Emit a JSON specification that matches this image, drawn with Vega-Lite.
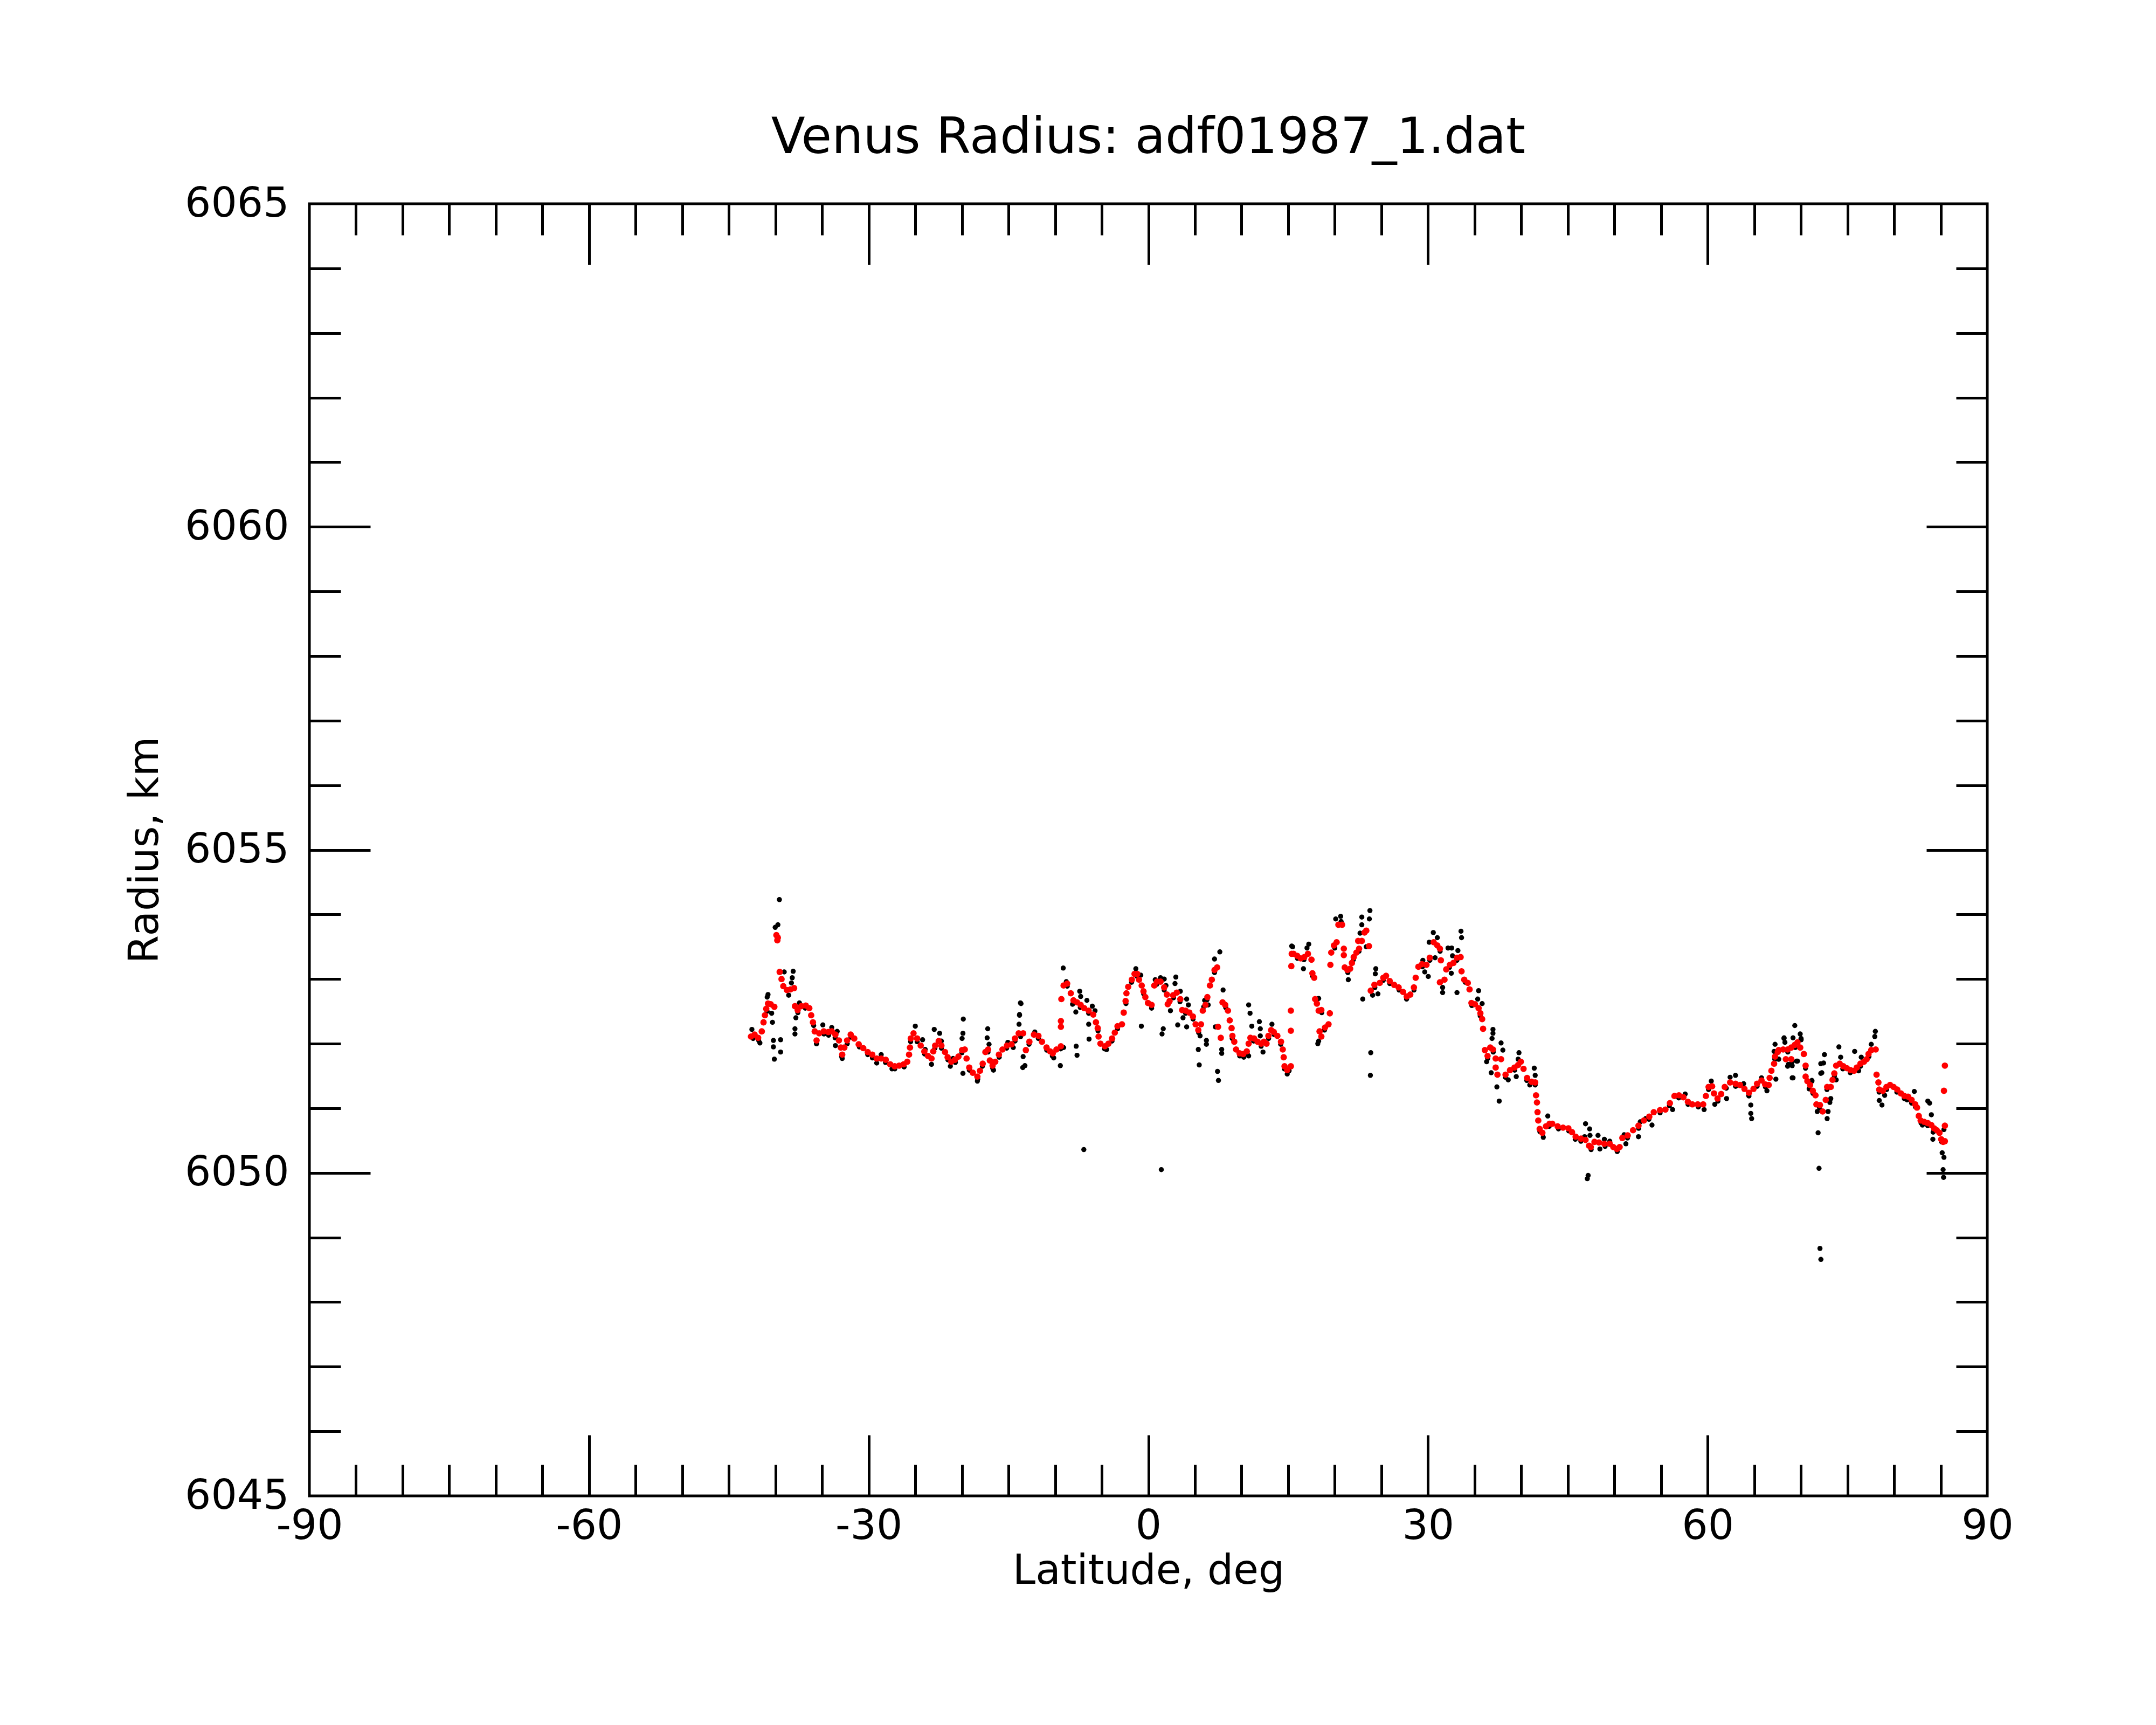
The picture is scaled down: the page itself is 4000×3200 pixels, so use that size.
{
  "$schema": "https://vega.github.io/schema/vega-lite/v6.json",
  "width": 3113,
  "height": 2397,
  "autosize": {"type": "none"},
  "padding": {"left": 574, "top": 378, "right": 313, "bottom": 425},
  "background": "white",
  "title": {
    "text": "Venus Radius: adf01987_1.dat",
    "font": "DejaVu Sans",
    "fontSize": 92,
    "fontWeight": "normal",
    "color": "black",
    "anchor": "middle",
    "frame": "group",
    "baseline": "alphabetic",
    "offset": -36
  },
  "config": {
    "view": {"stroke": "black", "strokeWidth": 5},
    "axis": {
      "domain": false,
      "grid": false,
      "labelFont": "DejaVu Sans",
      "titleFont": "DejaVu Sans",
      "labelColor": "black",
      "titleColor": "black",
      "tickColor": "black",
      "tickWidth": 5,
      "labelFontSize": 76,
      "titleFontSize": 76,
      "titleFontWeight": "normal",
      "labelFlush": false,
      "labelOverlap": false,
      "labelBound": false,
      "labelLimit": 0
    }
  },
  "datasets": {
    "raw": [
      {"lat": -39.58, "r": 6054.23}, {"lat": -39.74, "r": 6053.84}, {"lat": -40.03, "r": 6053.80}, {"lat": -39.06, "r": 6053.11},
      {"lat": -38.10, "r": 6053.12}, {"lat": -38.20, "r": 6053.02}, {"lat": -38.29, "r": 6052.94}, {"lat": -38.58, "r": 6052.75},
      {"lat": -40.80, "r": 6052.76}, {"lat": -40.89, "r": 6052.72}, {"lat": -40.41, "r": 6052.47}, {"lat": -40.32, "r": 6052.33},
      {"lat": -40.22, "r": 6052.05}, {"lat": -40.22, "r": 6051.95}, {"lat": -39.45, "r": 6052.06}, {"lat": -39.45, "r": 6051.87},
      {"lat": -40.12, "r": 6051.76}, {"lat": -37.81, "r": 6052.40}, {"lat": -37.91, "r": 6052.23}, {"lat": -37.91, "r": 6052.15},
      {"lat": -42.53, "r": 6052.22}, {"lat": -41.67, "r": 6052.01}, {"lat": -37.43, "r": 6052.63}, {"lat": -34.92, "r": 6052.29},
      {"lat": -33.96, "r": 6052.25}, {"lat": -33.38, "r": 6052.19}, {"lat": -33.57, "r": 6051.97}, {"lat": -35.59, "r": 6052.00},
      {"lat": -32.84, "r": 6051.77}, {"lat": -29.14, "r": 6051.70}, {"lat": -28.66, "r": 6051.83}, {"lat": -27.50, "r": 6051.61},
      {"lat": -25.00, "r": 6052.27}, {"lat": -24.22, "r": 6052.06}, {"lat": -23.94, "r": 6051.91}, {"lat": -23.26, "r": 6051.68},
      {"lat": -22.97, "r": 6052.22}, {"lat": -22.39, "r": 6052.16}, {"lat": -22.20, "r": 6052.04}, {"lat": -21.24, "r": 6051.65},
      {"lat": -20.95, "r": 6051.77}, {"lat": -19.85, "r": 6052.38}, {"lat": -19.89, "r": 6052.16}, {"lat": -19.98, "r": 6052.08},
      {"lat": -19.89, "r": 6051.54}, {"lat": -18.34, "r": 6051.42}, {"lat": -17.23, "r": 6052.23}, {"lat": -17.29, "r": 6052.09},
      {"lat": -17.09, "r": 6051.99}, {"lat": -16.61, "r": 6051.59}, {"lat": -15.07, "r": 6052.02}, {"lat": -14.49, "r": 6051.94},
      {"lat": -13.66, "r": 6052.62}, {"lat": -13.82, "r": 6052.44}, {"lat": -13.87, "r": 6052.30}, {"lat": -13.47, "r": 6051.63},
      {"lat": -13.43, "r": 6051.80},
      {"lat": -42.4, "r": 6052.08}, {"lat": -41.8, "r": 6052.05}, {"lat": -40.9, "r": 6052.50}, {"lat": -37.6, "r": 6052.48},
      {"lat": -36.8, "r": 6052.55}, {"lat": -35.9, "r": 6052.28}, {"lat": -35.6, "r": 6052.00}, {"lat": -34.8, "r": 6052.15},
      {"lat": -34.3, "r": 6052.13}, {"lat": -33.6, "r": 6052.09}, {"lat": -32.9, "r": 6051.80}, {"lat": -32.3, "r": 6052.00},
      {"lat": -31.9, "r": 6052.10}, {"lat": -31.0, "r": 6051.95}, {"lat": -30.1, "r": 6051.83}, {"lat": -29.6, "r": 6051.78},
      {"lat": -28.2, "r": 6051.71}, {"lat": -27.2, "r": 6051.61}, {"lat": -26.2, "r": 6051.64}, {"lat": -25.5, "r": 6052.03},
      {"lat": -24.8, "r": 6052.03}, {"lat": -24.0, "r": 6051.84}, {"lat": -22.9, "r": 6051.93}, {"lat": -22.2, "r": 6051.93},
      {"lat": -21.5, "r": 6051.75}, {"lat": -20.7, "r": 6051.71}, {"lat": -20.0, "r": 6051.86}, {"lat": -19.2, "r": 6051.59},
      {"lat": -18.3, "r": 6051.45}, {"lat": -17.8, "r": 6051.65}, {"lat": -17.2, "r": 6051.87}, {"lat": -16.7, "r": 6051.62},
      {"lat": -16.0, "r": 6051.79}, {"lat": -15.2, "r": 6051.93}, {"lat": -14.3, "r": 6052.04},
      {"lat": -13.72, "r": 6052.63}, {"lat": -13.82, "r": 6052.45}, {"lat": -13.24, "r": 6051.66}, {"lat": -12.18, "r": 6052.18},
      {"lat": -10.15, "r": 6051.78}, {"lat": -9.44, "r": 6051.66}, {"lat": -9.13, "r": 6053.17}, {"lat": -9.09, "r": 6051.94},
      {"lat": -8.80, "r": 6052.96}, {"lat": -8.13, "r": 6052.61}, {"lat": -7.78, "r": 6052.49}, {"lat": -7.36, "r": 6052.81},
      {"lat": -7.26, "r": 6052.73}, {"lat": -6.59, "r": 6052.67}, {"lat": -6.01, "r": 6052.58}, {"lat": -5.72, "r": 6052.51},
      {"lat": -6.40, "r": 6052.30}, {"lat": -6.36, "r": 6052.07}, {"lat": -7.74, "r": 6051.96}, {"lat": -7.65, "r": 6051.82},
      {"lat": -6.92, "r": 6050.36}, {"lat": -4.47, "r": 6051.91}, {"lat": -1.34, "r": 6053.16}, {"lat": -0.81, "r": 6053.06},
      {"lat": -0.75, "r": 6052.27}, {"lat": 0.35, "r": 6052.55}, {"lat": 0.74, "r": 6052.99}, {"lat": 1.31, "r": 6053.02},
      {"lat": 1.70, "r": 6053.00}, {"lat": 1.89, "r": 6052.90}, {"lat": 1.60, "r": 6052.23}, {"lat": 1.47, "r": 6052.15},
      {"lat": 1.39, "r": 6050.05}, {"lat": 2.37, "r": 6052.51}, {"lat": 2.95, "r": 6053.03}, {"lat": 2.86, "r": 6052.93},
      {"lat": 3.43, "r": 6052.81}, {"lat": 4.11, "r": 6052.69}, {"lat": 4.30, "r": 6052.60}, {"lat": 3.15, "r": 6052.29},
      {"lat": 3.72, "r": 6052.40}, {"lat": 4.11, "r": 6052.26}, {"lat": 5.55, "r": 6052.12}, {"lat": 6.23, "r": 6052.05},
      {"lat": 6.23, "r": 6051.99}, {"lat": 5.36, "r": 6051.91}, {"lat": 5.46, "r": 6051.67}, {"lat": 6.04, "r": 6052.67},
      {"lat": 5.94, "r": 6052.57}, {"lat": 6.42, "r": 6052.60}, {"lat": 7.10, "r": 6053.31}, {"lat": 7.67, "r": 6053.42},
      {"lat": 8.02, "r": 6052.83}, {"lat": 7.19, "r": 6052.26}, {"lat": 7.87, "r": 6051.91}, {"lat": 7.87, "r": 6051.85},
      {"lat": 7.42, "r": 6051.57}, {"lat": 7.52, "r": 6051.43}, {"lat": 10.76, "r": 6052.60}, {"lat": 10.91, "r": 6052.47},
      {"lat": 11.10, "r": 6052.27}, {"lat": 11.91, "r": 6052.34}, {"lat": 12.01, "r": 6052.23}, {"lat": 12.01, "r": 6052.12},
      {"lat": 13.26, "r": 6052.30}, {"lat": 12.30, "r": 6051.87}, {"lat": 10.24, "r": 6051.79}, {"lat": 10.76, "r": 6051.81},
      {"lat": 14.90, "r": 6051.53}, {"lat": 15.38, "r": 6053.51},
      {"lat": -13.7, "r": 6052.11}, {"lat": -12.8, "r": 6051.99}, {"lat": -11.8, "r": 6052.08}, {"lat": -10.9, "r": 6051.90},
      {"lat": -10.3, "r": 6051.81}, {"lat": -9.4, "r": 6051.92}, {"lat": -8.7, "r": 6052.89}, {"lat": -8.0, "r": 6052.63},
      {"lat": -7.3, "r": 6052.56}, {"lat": -6.4, "r": 6052.47}, {"lat": -5.4, "r": 6052.20}, {"lat": -4.7, "r": 6051.92},
      {"lat": -3.9, "r": 6052.04}, {"lat": -3.3, "r": 6052.23}, {"lat": -2.4, "r": 6052.62}, {"lat": -1.8, "r": 6052.95},
      {"lat": -1.2, "r": 6053.04}, {"lat": -0.5, "r": 6052.77}, {"lat": 0.9, "r": 6052.92}, {"lat": 1.7, "r": 6052.83},
      {"lat": 2.7, "r": 6052.71}, {"lat": 3.4, "r": 6052.65}, {"lat": 4.0, "r": 6052.47}, {"lat": 4.8, "r": 6052.38},
      {"lat": 5.4, "r": 6052.17}, {"lat": 6.3, "r": 6052.68}, {"lat": 7.1, "r": 6053.10}, {"lat": 8.3, "r": 6052.56},
      {"lat": 9.0, "r": 6052.08}, {"lat": 9.8, "r": 6051.81}, {"lat": 10.6, "r": 6051.84}, {"lat": 11.3, "r": 6052.04},
      {"lat": 12.1, "r": 6051.96}, {"lat": 12.9, "r": 6052.08}, {"lat": 13.5, "r": 6052.14}, {"lat": 14.2, "r": 6051.99},
      {"lat": 14.6, "r": 6051.61},
      {"lat": 15.48, "r": 6053.50}, {"lat": 17.21, "r": 6053.54}, {"lat": 17.02, "r": 6053.48}, {"lat": 16.64, "r": 6053.16},
      {"lat": 18.27, "r": 6052.70}, {"lat": 18.18, "r": 6052.00}, {"lat": 18.27, "r": 6052.04}, {"lat": 20.10, "r": 6053.93},
      {"lat": 20.63, "r": 6053.97}, {"lat": 20.68, "r": 6053.89}, {"lat": 22.90, "r": 6053.96}, {"lat": 23.77, "r": 6054.06},
      {"lat": 23.71, "r": 6053.93}, {"lat": 22.90, "r": 6053.84}, {"lat": 22.71, "r": 6053.71}, {"lat": 23.38, "r": 6053.50},
      {"lat": 21.45, "r": 6052.99}, {"lat": 23.86, "r": 6051.86}, {"lat": 23.82, "r": 6051.51}, {"lat": 23.00, "r": 6052.69},
      {"lat": 24.40, "r": 6053.16}, {"lat": 24.35, "r": 6053.08}, {"lat": 24.06, "r": 6052.75}, {"lat": 24.63, "r": 6052.77},
      {"lat": 27.72, "r": 6052.70}, {"lat": 29.45, "r": 6053.29}, {"lat": 29.65, "r": 6053.11}, {"lat": 30.03, "r": 6053.04},
      {"lat": 30.57, "r": 6053.72}, {"lat": 31.00, "r": 6053.64}, {"lat": 30.13, "r": 6053.57}, {"lat": 30.76, "r": 6053.33},
      {"lat": 32.15, "r": 6053.48}, {"lat": 32.54, "r": 6053.48}, {"lat": 33.21, "r": 6053.44}, {"lat": 32.63, "r": 6053.36},
      {"lat": 33.54, "r": 6053.74}, {"lat": 33.60, "r": 6053.64}, {"lat": 31.57, "r": 6052.87}, {"lat": 31.57, "r": 6052.79},
      {"lat": 32.50, "r": 6053.09}, {"lat": 33.11, "r": 6052.79}, {"lat": 35.43, "r": 6052.82}, {"lat": 35.33, "r": 6052.69},
      {"lat": 35.81, "r": 6052.62}, {"lat": 36.97, "r": 6052.22}, {"lat": 36.97, "r": 6052.16}, {"lat": 36.87, "r": 6052.08},
      {"lat": 37.84, "r": 6052.01}, {"lat": 38.03, "r": 6051.90}, {"lat": 36.29, "r": 6051.72}, {"lat": 36.78, "r": 6051.55},
      {"lat": 37.39, "r": 6051.33}, {"lat": 37.64, "r": 6051.11}, {"lat": 39.76, "r": 6051.86}, {"lat": 39.67, "r": 6051.76},
      {"lat": 41.40, "r": 6051.62}, {"lat": 41.50, "r": 6051.51}, {"lat": 39.47, "r": 6051.49}, {"lat": 38.61, "r": 6051.44},
      {"lat": 40.92, "r": 6051.36}, {"lat": 42.85, "r": 6050.88}, {"lat": 42.37, "r": 6050.55},
      {"lat": 15.1, "r": 6051.58}, {"lat": 16.0, "r": 6053.32}, {"lat": 16.7, "r": 6053.30}, {"lat": 17.6, "r": 6053.05},
      {"lat": 18.6, "r": 6052.48}, {"lat": 18.9, "r": 6052.21}, {"lat": 20.0, "r": 6053.48}, {"lat": 21.4, "r": 6053.10},
      {"lat": 22.0, "r": 6053.30}, {"lat": 22.6, "r": 6053.43}, {"lat": 24.3, "r": 6052.87}, {"lat": 25.2, "r": 6052.98},
      {"lat": 25.9, "r": 6052.93}, {"lat": 26.9, "r": 6052.83}, {"lat": 27.7, "r": 6052.69}, {"lat": 28.5, "r": 6052.83},
      {"lat": 29.4, "r": 6053.19}, {"lat": 30.2, "r": 6053.29}, {"lat": 31.3, "r": 6053.43}, {"lat": 32.3, "r": 6053.18},
      {"lat": 33.1, "r": 6053.29}, {"lat": 34.0, "r": 6052.95}, {"lat": 34.7, "r": 6052.59}, {"lat": 35.6, "r": 6052.43},
      {"lat": 36.4, "r": 6051.77}, {"lat": 37.0, "r": 6051.87}, {"lat": 38.3, "r": 6051.48}, {"lat": 39.3, "r": 6051.59},
      {"lat": 40.6, "r": 6051.43}, {"lat": 41.5, "r": 6051.36}, {"lat": 42.0, "r": 6050.64}, {"lat": 43.0, "r": 6050.72},
      {"lat": 46.90, "r": 6050.76}, {"lat": 47.34, "r": 6050.68}, {"lat": 47.38, "r": 6050.58}, {"lat": 48.24, "r": 6050.58},
      {"lat": 48.92, "r": 6050.52}, {"lat": 49.50, "r": 6050.49}, {"lat": 46.80, "r": 6050.56}, {"lat": 48.44, "r": 6050.37},
      {"lat": 47.18, "r": 6049.96}, {"lat": 47.09, "r": 6049.91}, {"lat": 51.04, "r": 6050.59}, {"lat": 51.23, "r": 6050.45},
      {"lat": 52.58, "r": 6050.56}, {"lat": 52.77, "r": 6050.79}, {"lat": 53.35, "r": 6050.84}, {"lat": 54.03, "r": 6050.74},
      {"lat": 56.24, "r": 6050.98}, {"lat": 57.59, "r": 6051.22}, {"lat": 60.39, "r": 6051.42}, {"lat": 59.62, "r": 6050.98},
      {"lat": 60.77, "r": 6051.06}, {"lat": 62.03, "r": 6051.15}, {"lat": 62.41, "r": 6051.48}, {"lat": 62.99, "r": 6051.51},
      {"lat": 63.86, "r": 6051.38}, {"lat": 64.43, "r": 6051.19}, {"lat": 64.63, "r": 6051.05}, {"lat": 64.63, "r": 6050.92},
      {"lat": 64.72, "r": 6050.84}, {"lat": 65.78, "r": 6051.47}, {"lat": 66.36, "r": 6051.27}, {"lat": 67.23, "r": 6051.99},
      {"lat": 67.13, "r": 6051.88}, {"lat": 67.32, "r": 6051.45}, {"lat": 68.19, "r": 6052.08}, {"lat": 67.61, "r": 6051.76},
      {"lat": 69.35, "r": 6052.28}, {"lat": 69.93, "r": 6052.15}, {"lat": 70.02, "r": 6052.08}, {"lat": 69.16, "r": 6052.09},
      {"lat": 68.67, "r": 6051.68}, {"lat": 69.06, "r": 6051.72}, {"lat": 69.16, "r": 6051.47}, {"lat": 69.54, "r": 6051.73},
      {"lat": 71.18, "r": 6051.43}, {"lat": 70.89, "r": 6051.30}, {"lat": 71.76, "r": 6050.95}, {"lat": 71.85, "r": 6050.62},
      {"lat": 71.95, "r": 6050.07}, {"lat": 72.14, "r": 6051.69}, {"lat": 72.14, "r": 6051.54},
      {"lat": 44.0, "r": 6050.68}, {"lat": 45.1, "r": 6050.65}, {"lat": 45.8, "r": 6050.52}, {"lat": 46.4, "r": 6050.49},
      {"lat": 47.5, "r": 6050.36}, {"lat": 49.0, "r": 6050.41}, {"lat": 50.3, "r": 6050.33}, {"lat": 51.4, "r": 6050.54},
      {"lat": 52.6, "r": 6050.69}, {"lat": 53.7, "r": 6050.83}, {"lat": 54.9, "r": 6050.93}, {"lat": 55.9, "r": 6051.04},
      {"lat": 56.9, "r": 6051.16}, {"lat": 57.9, "r": 6051.06}, {"lat": 59.0, "r": 6051.02}, {"lat": 60.1, "r": 6051.29},
      {"lat": 61.1, "r": 6051.11}, {"lat": 62.0, "r": 6051.31}, {"lat": 63.0, "r": 6051.34}, {"lat": 64.4, "r": 6051.20},
      {"lat": 65.3, "r": 6051.34}, {"lat": 66.2, "r": 6051.33}, {"lat": 67.2, "r": 6051.76},
      {"lat": 70.03, "r": 6052.06}, {"lat": 68.20, "r": 6052.09}, {"lat": 68.29, "r": 6052.02}, {"lat": 67.62, "r": 6051.76},
      {"lat": 68.58, "r": 6051.65}, {"lat": 69.07, "r": 6051.66}, {"lat": 69.07, "r": 6051.47}, {"lat": 69.64, "r": 6051.73},
      {"lat": 72.53, "r": 6051.83}, {"lat": 72.44, "r": 6051.70}, {"lat": 72.25, "r": 6051.55}, {"lat": 71.19, "r": 6051.42},
      {"lat": 72.34, "r": 6050.95}, {"lat": 72.92, "r": 6050.95}, {"lat": 72.82, "r": 6050.84}, {"lat": 72.05, "r": 6048.83},
      {"lat": 72.15, "r": 6048.66}, {"lat": 73.21, "r": 6051.15}, {"lat": 73.11, "r": 6051.09}, {"lat": 73.79, "r": 6051.44},
      {"lat": 74.08, "r": 6051.95}, {"lat": 74.27, "r": 6051.79}, {"lat": 75.77, "r": 6051.88}, {"lat": 76.20, "r": 6051.58},
      {"lat": 76.48, "r": 6051.79}, {"lat": 77.55, "r": 6051.99}, {"lat": 77.99, "r": 6052.19}, {"lat": 77.93, "r": 6052.11},
      {"lat": 78.41, "r": 6051.12}, {"lat": 78.70, "r": 6051.05}, {"lat": 78.99, "r": 6051.20}, {"lat": 81.40, "r": 6051.13},
      {"lat": 81.88, "r": 6051.08}, {"lat": 82.17, "r": 6051.26}, {"lat": 83.04, "r": 6050.74}, {"lat": 83.62, "r": 6051.11},
      {"lat": 83.81, "r": 6051.08}, {"lat": 84.00, "r": 6050.90}, {"lat": 84.19, "r": 6050.63}, {"lat": 84.16, "r": 6050.52},
      {"lat": 85.16, "r": 6050.31}, {"lat": 85.35, "r": 6050.24}, {"lat": 85.26, "r": 6050.05}, {"lat": 85.31, "r": 6049.93},
      {"lat": 85.35, "r": 6050.67},
      {"lat": 68.6, "r": 6051.87}, {"lat": 69.4, "r": 6051.94}, {"lat": 70.5, "r": 6051.62}, {"lat": 71.3, "r": 6051.23},
      {"lat": 72.0, "r": 6051.01}, {"lat": 72.8, "r": 6051.29}, {"lat": 73.6, "r": 6051.50}, {"lat": 74.5, "r": 6051.61},
      {"lat": 75.3, "r": 6051.55}, {"lat": 76.4, "r": 6051.65}, {"lat": 77.3, "r": 6051.80}, {"lat": 78.4, "r": 6051.25},
      {"lat": 79.2, "r": 6051.29}, {"lat": 80.3, "r": 6051.25}, {"lat": 81.1, "r": 6051.15}, {"lat": 82.3, "r": 6051.02},
      {"lat": 82.9, "r": 6050.77}, {"lat": 83.6, "r": 6050.73}, {"lat": 84.3, "r": 6050.65}, {"lat": 85.1, "r": 6050.48}
    ],
    "smooth": [
      {"lat": -42.63, "r": 6052.11}, {"lat": -42.24, "r": 6052.14}, {"lat": -41.86, "r": 6052.09}, {"lat": -41.47, "r": 6052.19},
      {"lat": -41.28, "r": 6052.33}, {"lat": -41.13, "r": 6052.44}, {"lat": -40.99, "r": 6052.54}, {"lat": -40.80, "r": 6052.62},
      {"lat": -40.51, "r": 6052.61}, {"lat": -40.12, "r": 6052.57}, {"lat": -39.90, "r": 6053.68}, {"lat": -39.75, "r": 6053.64},
      {"lat": -39.80, "r": 6053.60}, {"lat": -39.55, "r": 6053.11}, {"lat": -39.35, "r": 6053.00}, {"lat": -39.16, "r": 6052.89},
      {"lat": -38.77, "r": 6052.83}, {"lat": -38.39, "r": 6052.84}, {"lat": -38.00, "r": 6052.86}, {"lat": -37.91, "r": 6052.58},
      {"lat": -37.62, "r": 6052.52}, {"lat": -37.23, "r": 6052.58}, {"lat": -36.75, "r": 6052.59}, {"lat": -36.37, "r": 6052.55},
      {"lat": -36.17, "r": 6052.44}, {"lat": -35.98, "r": 6052.33}, {"lat": -35.79, "r": 6052.19}, {"lat": -35.59, "r": 6052.05},
      {"lat": -35.31, "r": 6052.16}, {"lat": -34.82, "r": 6052.19}, {"lat": -34.34, "r": 6052.18}, {"lat": -33.96, "r": 6052.19},
      {"lat": -33.57, "r": 6052.14}, {"lat": -33.19, "r": 6052.05}, {"lat": -32.99, "r": 6051.94}, {"lat": -32.84, "r": 6051.83},
      {"lat": -32.61, "r": 6051.94}, {"lat": -32.32, "r": 6052.05}, {"lat": -31.93, "r": 6052.14}, {"lat": -31.55, "r": 6052.08},
      {"lat": -31.07, "r": 6051.99}, {"lat": -30.58, "r": 6051.93}, {"lat": -30.10, "r": 6051.87}, {"lat": -29.62, "r": 6051.83},
      {"lat": -29.14, "r": 6051.77}, {"lat": -28.66, "r": 6051.77}, {"lat": -28.17, "r": 6051.75}, {"lat": -27.69, "r": 6051.68},
      {"lat": -27.21, "r": 6051.65}, {"lat": -26.73, "r": 6051.66}, {"lat": -26.25, "r": 6051.68}, {"lat": -25.86, "r": 6051.72},
      {"lat": -25.67, "r": 6051.83}, {"lat": -25.57, "r": 6051.94}, {"lat": -25.48, "r": 6052.08}, {"lat": -25.19, "r": 6052.16},
      {"lat": -24.80, "r": 6052.08}, {"lat": -24.42, "r": 6051.97}, {"lat": -24.03, "r": 6051.88}, {"lat": -23.64, "r": 6051.81},
      {"lat": -23.26, "r": 6051.77}, {"lat": -23.07, "r": 6051.88}, {"lat": -22.87, "r": 6051.97}, {"lat": -22.49, "r": 6052.04},
      {"lat": -22.20, "r": 6051.97}, {"lat": -21.81, "r": 6051.87}, {"lat": -21.53, "r": 6051.79}, {"lat": -21.14, "r": 6051.72},
      {"lat": -20.75, "r": 6051.75}, {"lat": -20.37, "r": 6051.80}, {"lat": -19.98, "r": 6051.90}, {"lat": -19.69, "r": 6051.91},
      {"lat": -19.50, "r": 6051.77}, {"lat": -19.21, "r": 6051.63}, {"lat": -18.83, "r": 6051.55}, {"lat": -18.34, "r": 6051.49},
      {"lat": -18.06, "r": 6051.58}, {"lat": -17.77, "r": 6051.69}, {"lat": -17.48, "r": 6051.87}, {"lat": -17.19, "r": 6051.91},
      {"lat": -17.00, "r": 6051.74}, {"lat": -16.71, "r": 6051.66}, {"lat": -16.42, "r": 6051.72}, {"lat": -16.03, "r": 6051.83},
      {"lat": -15.65, "r": 6051.91}, {"lat": -15.17, "r": 6051.97}, {"lat": -14.68, "r": 6051.99}, {"lat": -14.30, "r": 6052.08},
      {"lat": -13.91, "r": 6052.16}, {"lat": -13.43, "r": 6052.16},
      {"lat": -13.14, "r": 6051.90}, {"lat": -12.76, "r": 6052.03}, {"lat": -12.27, "r": 6052.14}, {"lat": -11.79, "r": 6052.12},
      {"lat": -11.41, "r": 6052.03}, {"lat": -10.92, "r": 6051.94}, {"lat": -10.54, "r": 6051.88}, {"lat": -10.25, "r": 6051.85},
      {"lat": -9.86, "r": 6051.91}, {"lat": -9.38, "r": 6051.96}, {"lat": -9.38, "r": 6052.26}, {"lat": -9.38, "r": 6052.35},
      {"lat": -9.33, "r": 6052.69}, {"lat": -9.09, "r": 6052.90}, {"lat": -8.71, "r": 6052.93}, {"lat": -8.32, "r": 6052.78},
      {"lat": -8.03, "r": 6052.67}, {"lat": -7.65, "r": 6052.64}, {"lat": -7.26, "r": 6052.60}, {"lat": -6.88, "r": 6052.55},
      {"lat": -6.40, "r": 6052.51}, {"lat": -5.91, "r": 6052.45}, {"lat": -5.62, "r": 6052.33}, {"lat": -5.43, "r": 6052.24},
      {"lat": -5.34, "r": 6052.11}, {"lat": -5.14, "r": 6052.00}, {"lat": -4.66, "r": 6051.96}, {"lat": -4.28, "r": 6052.00},
      {"lat": -3.89, "r": 6052.08}, {"lat": -3.60, "r": 6052.17}, {"lat": -3.31, "r": 6052.27}, {"lat": -2.83, "r": 6052.30},
      {"lat": -2.64, "r": 6052.48}, {"lat": -2.44, "r": 6052.66}, {"lat": -2.35, "r": 6052.78}, {"lat": -2.16, "r": 6052.88},
      {"lat": -1.77, "r": 6052.99}, {"lat": -1.48, "r": 6053.08}, {"lat": -1.19, "r": 6053.08}, {"lat": -1.00, "r": 6052.99},
      {"lat": -0.71, "r": 6052.90}, {"lat": -0.52, "r": 6052.81}, {"lat": -0.32, "r": 6052.72}, {"lat": -0.04, "r": 6052.63},
      {"lat": 0.35, "r": 6052.60}, {"lat": 0.64, "r": 6052.90}, {"lat": 0.93, "r": 6052.96}, {"lat": 1.31, "r": 6052.96},
      {"lat": 1.70, "r": 6052.87}, {"lat": 1.99, "r": 6052.76}, {"lat": 2.08, "r": 6052.61}, {"lat": 2.28, "r": 6052.66},
      {"lat": 2.66, "r": 6052.75}, {"lat": 3.05, "r": 6052.79}, {"lat": 3.43, "r": 6052.69}, {"lat": 3.63, "r": 6052.52},
      {"lat": 4.01, "r": 6052.51}, {"lat": 4.40, "r": 6052.48}, {"lat": 4.78, "r": 6052.42}, {"lat": 5.07, "r": 6052.30},
      {"lat": 5.36, "r": 6052.21}, {"lat": 5.65, "r": 6052.30}, {"lat": 5.84, "r": 6052.51}, {"lat": 6.13, "r": 6052.60},
      {"lat": 6.33, "r": 6052.72}, {"lat": 6.61, "r": 6052.90}, {"lat": 6.81, "r": 6052.99}, {"lat": 7.10, "r": 6053.14},
      {"lat": 7.38, "r": 6053.18}, {"lat": 7.48, "r": 6052.26}, {"lat": 7.77, "r": 6052.09}, {"lat": 7.96, "r": 6052.64},
      {"lat": 8.25, "r": 6052.60}, {"lat": 8.54, "r": 6052.51}, {"lat": 8.73, "r": 6052.36}, {"lat": 8.93, "r": 6052.24},
      {"lat": 9.02, "r": 6052.12}, {"lat": 9.22, "r": 6052.03}, {"lat": 9.41, "r": 6051.91}, {"lat": 9.79, "r": 6051.85},
      {"lat": 10.18, "r": 6051.84}, {"lat": 10.56, "r": 6051.88}, {"lat": 10.76, "r": 6052.00}, {"lat": 10.95, "r": 6052.09},
      {"lat": 11.34, "r": 6052.08}, {"lat": 11.72, "r": 6052.03}, {"lat": 12.11, "r": 6052.00}, {"lat": 12.40, "r": 6052.03},
      {"lat": 12.68, "r": 6052.00}, {"lat": 12.88, "r": 6052.12}, {"lat": 13.17, "r": 6052.21}, {"lat": 13.46, "r": 6052.18},
      {"lat": 13.84, "r": 6052.12}, {"lat": 14.23, "r": 6052.03}, {"lat": 14.42, "r": 6051.91}, {"lat": 14.52, "r": 6051.79},
      {"lat": 14.61, "r": 6051.65}, {"lat": 14.90, "r": 6051.59}, {"lat": 15.29, "r": 6051.65}, {"lat": 15.29, "r": 6052.20},
      {"lat": 15.29, "r": 6052.51}, {"lat": 15.34, "r": 6053.20}, {"lat": 15.38, "r": 6053.39},
      {"lat": 15.58, "r": 6053.39}, {"lat": 15.96, "r": 6053.36}, {"lat": 16.35, "r": 6053.32}, {"lat": 16.73, "r": 6053.34},
      {"lat": 17.12, "r": 6053.39}, {"lat": 17.50, "r": 6053.30}, {"lat": 17.60, "r": 6053.09}, {"lat": 17.79, "r": 6053.02},
      {"lat": 17.89, "r": 6052.69}, {"lat": 18.08, "r": 6052.62}, {"lat": 18.27, "r": 6052.51}, {"lat": 18.56, "r": 6052.52},
      {"lat": 19.47, "r": 6052.47}, {"lat": 18.37, "r": 6052.19}, {"lat": 18.56, "r": 6052.11}, {"lat": 18.95, "r": 6052.25},
      {"lat": 19.33, "r": 6052.30}, {"lat": 19.53, "r": 6053.22}, {"lat": 19.62, "r": 6053.41}, {"lat": 19.91, "r": 6053.52},
      {"lat": 20.20, "r": 6053.57}, {"lat": 20.39, "r": 6053.84}, {"lat": 20.78, "r": 6053.84}, {"lat": 20.97, "r": 6053.47},
      {"lat": 20.97, "r": 6053.37}, {"lat": 21.07, "r": 6053.18}, {"lat": 21.36, "r": 6053.14}, {"lat": 21.65, "r": 6053.16},
      {"lat": 21.84, "r": 6053.25}, {"lat": 22.03, "r": 6053.34}, {"lat": 22.32, "r": 6053.41}, {"lat": 22.61, "r": 6053.47},
      {"lat": 22.51, "r": 6053.59}, {"lat": 22.90, "r": 6053.59}, {"lat": 23.19, "r": 6053.72}, {"lat": 23.38, "r": 6053.75},
      {"lat": 23.67, "r": 6053.51}, {"lat": 23.86, "r": 6052.82}, {"lat": 24.25, "r": 6052.91}, {"lat": 24.83, "r": 6052.94},
      {"lat": 25.21, "r": 6053.02}, {"lat": 25.50, "r": 6053.05}, {"lat": 25.89, "r": 6052.97}, {"lat": 26.37, "r": 6052.91},
      {"lat": 26.85, "r": 6052.87}, {"lat": 27.33, "r": 6052.80}, {"lat": 27.72, "r": 6052.73}, {"lat": 28.10, "r": 6052.76},
      {"lat": 28.49, "r": 6052.87}, {"lat": 28.68, "r": 6053.02}, {"lat": 28.97, "r": 6053.19}, {"lat": 29.36, "r": 6053.23},
      {"lat": 29.84, "r": 6053.22}, {"lat": 30.19, "r": 6053.33}, {"lat": 30.61, "r": 6053.57}, {"lat": 31.00, "r": 6053.52},
      {"lat": 31.28, "r": 6053.47}, {"lat": 31.38, "r": 6053.29}, {"lat": 31.28, "r": 6052.95}, {"lat": 31.77, "r": 6052.99},
      {"lat": 31.96, "r": 6053.15}, {"lat": 32.34, "r": 6053.22}, {"lat": 32.73, "r": 6053.25}, {"lat": 33.11, "r": 6053.33},
      {"lat": 33.50, "r": 6053.34}, {"lat": 33.60, "r": 6053.12}, {"lat": 33.89, "r": 6052.99}, {"lat": 34.27, "r": 6052.94},
      {"lat": 34.46, "r": 6052.84}, {"lat": 34.66, "r": 6052.63}, {"lat": 35.04, "r": 6052.61}, {"lat": 35.43, "r": 6052.55},
      {"lat": 35.62, "r": 6052.47}, {"lat": 35.81, "r": 6052.38}, {"lat": 35.91, "r": 6052.23}, {"lat": 36.10, "r": 6051.90},
      {"lat": 36.39, "r": 6051.81}, {"lat": 36.68, "r": 6051.94}, {"lat": 36.97, "r": 6051.91}, {"lat": 37.26, "r": 6051.77},
      {"lat": 37.84, "r": 6051.76}, {"lat": 37.26, "r": 6051.63}, {"lat": 37.45, "r": 6051.52}, {"lat": 38.32, "r": 6051.52},
      {"lat": 38.80, "r": 6051.59}, {"lat": 39.28, "r": 6051.63}, {"lat": 39.67, "r": 6051.67}, {"lat": 39.96, "r": 6051.72},
      {"lat": 40.25, "r": 6051.61}, {"lat": 40.63, "r": 6051.47}, {"lat": 41.11, "r": 6051.41}, {"lat": 41.50, "r": 6051.40},
      {"lat": 41.59, "r": 6051.20}, {"lat": 41.69, "r": 6051.09}, {"lat": 41.75, "r": 6050.94}, {"lat": 41.83, "r": 6050.81},
      {"lat": 41.98, "r": 6050.68}, {"lat": 42.27, "r": 6050.62}, {"lat": 42.66, "r": 6050.72}, {"lat": 43.04, "r": 6050.76},
      {"lat": 43.33, "r": 6050.76}, {"lat": 43.91, "r": 6050.72}, {"lat": 44.49, "r": 6050.70}, {"lat": 45.06, "r": 6050.69},
      {"lat": 45.45, "r": 6050.63}, {"lat": 45.84, "r": 6050.56}, {"lat": 46.41, "r": 6050.53}, {"lat": 46.90, "r": 6050.51},
      {"lat": 47.28, "r": 6050.42}, {"lat": 47.47, "r": 6050.40}, {"lat": 47.86, "r": 6050.48}, {"lat": 48.34, "r": 6050.47},
      {"lat": 48.92, "r": 6050.45}, {"lat": 49.50, "r": 6050.45}, {"lat": 49.88, "r": 6050.40}, {"lat": 50.27, "r": 6050.37},
      {"lat": 50.56, "r": 6050.40}, {"lat": 50.85, "r": 6050.54}, {"lat": 51.42, "r": 6050.58}, {"lat": 52.00, "r": 6050.66},
      {"lat": 52.58, "r": 6050.73}, {"lat": 53.16, "r": 6050.81}, {"lat": 53.74, "r": 6050.87}, {"lat": 54.22, "r": 6050.94},
      {"lat": 54.89, "r": 6050.97}, {"lat": 55.47, "r": 6050.98}, {"lat": 55.95, "r": 6051.08}, {"lat": 56.44, "r": 6051.19},
      {"lat": 56.92, "r": 6051.20}, {"lat": 57.40, "r": 6051.17}, {"lat": 57.88, "r": 6051.10}, {"lat": 58.36, "r": 6051.06},
      {"lat": 58.94, "r": 6051.06}, {"lat": 59.52, "r": 6051.06}, {"lat": 59.81, "r": 6051.19}, {"lat": 60.10, "r": 6051.33},
      {"lat": 60.48, "r": 6051.34}, {"lat": 60.68, "r": 6051.23}, {"lat": 61.06, "r": 6051.15}, {"lat": 61.45, "r": 6051.22},
      {"lat": 61.83, "r": 6051.33}, {"lat": 62.41, "r": 6051.40}, {"lat": 62.99, "r": 6051.38}, {"lat": 63.47, "r": 6051.36},
      {"lat": 63.95, "r": 6051.30}, {"lat": 64.43, "r": 6051.24}, {"lat": 64.92, "r": 6051.30}, {"lat": 65.30, "r": 6051.38},
      {"lat": 65.78, "r": 6051.43}, {"lat": 66.17, "r": 6051.37}, {"lat": 66.55, "r": 6051.36}, {"lat": 66.65, "r": 6051.47},
      {"lat": 66.84, "r": 6051.58}, {"lat": 67.13, "r": 6051.69}, {"lat": 67.23, "r": 6051.80}, {"lat": 67.52, "r": 6051.87},
      {"lat": 67.62, "r": 6051.90}, {"lat": 68.10, "r": 6051.91}, {"lat": 68.58, "r": 6051.91}, {"lat": 68.97, "r": 6051.94},
      {"lat": 69.35, "r": 6051.98}, {"lat": 69.64, "r": 6052.02}, {"lat": 69.93, "r": 6051.94}, {"lat": 70.32, "r": 6051.84},
      {"lat": 70.51, "r": 6051.66}, {"lat": 70.51, "r": 6051.49}, {"lat": 70.70, "r": 6051.42}, {"lat": 70.99, "r": 6051.36},
      {"lat": 71.28, "r": 6051.27}, {"lat": 71.57, "r": 6051.20}, {"lat": 71.67, "r": 6051.06}, {"lat": 72.05, "r": 6051.05},
      {"lat": 72.34, "r": 6050.95}, {"lat": 72.67, "r": 6051.13}, {"lat": 72.82, "r": 6051.33}, {"lat": 73.21, "r": 6051.33},
      {"lat": 73.40, "r": 6051.44}, {"lat": 73.59, "r": 6051.54}, {"lat": 73.79, "r": 6051.66}, {"lat": 74.17, "r": 6051.69},
      {"lat": 74.56, "r": 6051.65}, {"lat": 74.94, "r": 6051.62}, {"lat": 75.33, "r": 6051.59}, {"lat": 75.71, "r": 6051.58},
      {"lat": 76.00, "r": 6051.63}, {"lat": 76.39, "r": 6051.69}, {"lat": 76.77, "r": 6051.72}, {"lat": 77.06, "r": 6051.76},
      {"lat": 77.26, "r": 6051.84}, {"lat": 77.55, "r": 6051.90}, {"lat": 78.03, "r": 6051.91}, {"lat": 78.12, "r": 6051.52},
      {"lat": 78.32, "r": 6051.40}, {"lat": 78.41, "r": 6051.29}, {"lat": 78.80, "r": 6051.27}, {"lat": 79.18, "r": 6051.33},
      {"lat": 79.57, "r": 6051.36}, {"lat": 79.95, "r": 6051.33}, {"lat": 80.34, "r": 6051.29}, {"lat": 80.73, "r": 6051.23},
      {"lat": 81.11, "r": 6051.19}, {"lat": 81.50, "r": 6051.18}, {"lat": 81.88, "r": 6051.13}, {"lat": 82.27, "r": 6051.06},
      {"lat": 82.46, "r": 6051.01}, {"lat": 82.65, "r": 6050.88}, {"lat": 82.85, "r": 6050.81}, {"lat": 83.23, "r": 6050.79},
      {"lat": 83.62, "r": 6050.77}, {"lat": 84.00, "r": 6050.74}, {"lat": 84.29, "r": 6050.69}, {"lat": 84.58, "r": 6050.66},
      {"lat": 84.87, "r": 6050.62}, {"lat": 85.06, "r": 6050.52}, {"lat": 85.26, "r": 6050.48}, {"lat": 85.45, "r": 6050.49},
      {"lat": 85.45, "r": 6050.73}, {"lat": 85.45, "r": 6051.66}, {"lat": 85.35, "r": 6051.27}, {"lat": 68.39, "r": 6051.76},
      {"lat": 68.97, "r": 6051.76}
    ]
  },
  "layer": [
    {
      "data": {"name": "raw"},
      "mark": {"type": "circle", "color": "black", "size": 90, "opacity": 1},
      "encoding": {
        "x": {
          "field": "lat", "type": "quantitative",
          "scale": {"domain": [-90, 90], "nice": false, "zero": false},
          "axis": {
            "orient": "bottom", "values": [-90, -60, -30, 0, 30, 60, 90],
            "ticks": false, "tickSize": 0, "labelPadding": 19,
            "labelExpr": "datum.value < 0 ? '-' + abs(datum.value) : '' + datum.value",
            "title": "Latitude, deg", "titlePadding": 8
          }
        },
        "y": {
          "field": "r", "type": "quantitative",
          "scale": {"domain": [6045, 6065], "nice": false, "zero": false},
          "axis": {
            "orient": "left", "values": [6045, 6050, 6055, 6060, 6065],
            "ticks": false, "tickSize": 0, "labelPadding": 38,
            "labelExpr": "'' + datum.value",
            "title": "Radius, km", "titlePadding": 66
          }
        }
      }
    },
    {
      "data": {"name": "smooth"},
      "mark": {"type": "circle", "color": "#ff0000", "size": 140, "opacity": 1},
      "encoding": {
        "x": {
          "field": "lat", "type": "quantitative",
          "axis": {
            "orient": "bottom", "labels": false, "title": null, "tickSize": -58,
            "values": [-85, -80, -75, -70, -65, -55, -50, -45, -40, -35, -25, -20, -15, -10, -5, 5, 10, 15, 20, 25, 35, 40, 45, 50, 55, 65, 70, 75, 80, 85]
          }
        },
        "y": {
          "field": "r", "type": "quantitative",
          "axis": {
            "orient": "left", "labels": false, "title": null, "tickSize": -58,
            "values": [6046, 6047, 6048, 6049, 6051, 6052, 6053, 6054, 6056, 6057, 6058, 6059, 6061, 6062, 6063, 6064]
          }
        }
      }
    },
    {
      "data": {"values": []},
      "mark": {"type": "circle", "opacity": 0},
      "encoding": {
        "x": {
          "field": "lat", "type": "quantitative",
          "axis": {"orient": "bottom", "labels": false, "title": null, "tickSize": -113, "values": [-60, -30, 0, 30, 60]}
        },
        "y": {
          "field": "r", "type": "quantitative",
          "axis": {"orient": "left", "labels": false, "title": null, "tickSize": -113, "values": [6050, 6055, 6060]}
        }
      }
    },
    {
      "data": {"values": []},
      "mark": {"type": "circle", "opacity": 0},
      "encoding": {
        "x": {
          "field": "lat", "type": "quantitative",
          "axis": {"orient": "top", "labels": false, "title": null, "tickSize": -113, "values": [-60, -30, 0, 30, 60]}
        },
        "y": {
          "field": "r", "type": "quantitative",
          "axis": {"orient": "right", "labels": false, "title": null, "tickSize": -113, "values": [6050, 6055, 6060]}
        }
      }
    },
    {
      "data": {"values": []},
      "mark": {"type": "circle", "opacity": 0},
      "encoding": {
        "x": {
          "field": "lat", "type": "quantitative",
          "axis": {
            "orient": "top", "labels": false, "title": null, "tickSize": -58,
            "values": [-85, -80, -75, -70, -65, -55, -50, -45, -40, -35, -25, -20, -15, -10, -5, 5, 10, 15, 20, 25, 35, 40, 45, 50, 55, 65, 70, 75, 80, 85]
          }
        },
        "y": {
          "field": "r", "type": "quantitative",
          "axis": {
            "orient": "right", "labels": false, "title": null, "tickSize": -58,
            "values": [6046, 6047, 6048, 6049, 6051, 6052, 6053, 6054, 6056, 6057, 6058, 6059, 6061, 6062, 6063, 6064]
          }
        }
      }
    }
  ],
  "resolve": {"axis": {"x": "independent", "y": "independent"}}
}
